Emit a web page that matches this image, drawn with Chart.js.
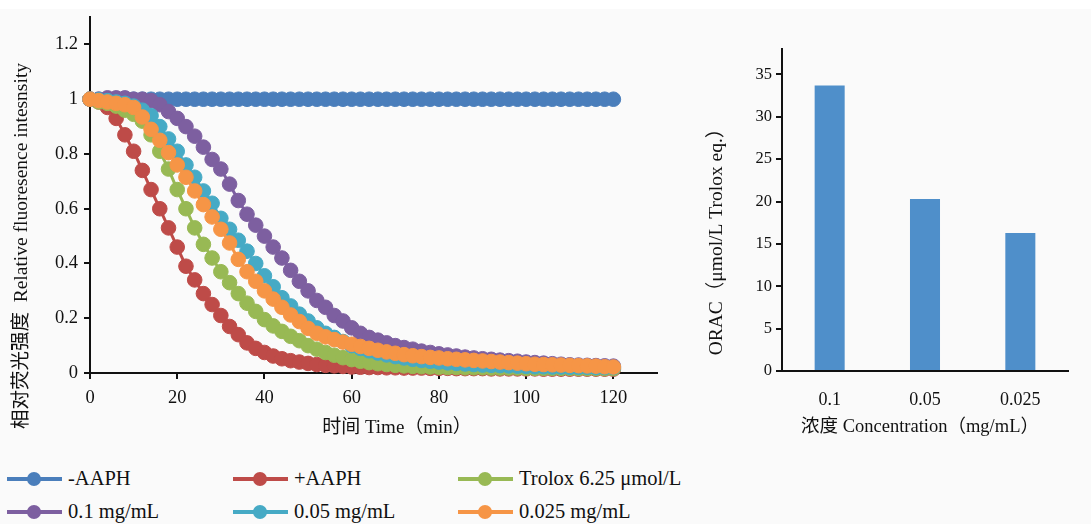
<!DOCTYPE html>
<html>
<head>
<meta charset="utf-8">
<script src="https://cdn.jsdelivr.net/npm/chart.js@4.4.0/dist/chart.umd.min.js"></script>
<style>
    body { margin: 0; background: #fafafa; width: 1091px; height: 524px; overflow: hidden; position: relative; font-family: "Liberation Serif", "Noto Sans CJK SC", serif; }
    #topStrip { position: absolute; left: 0; top: 0; width: 1091px; height: 9px; background: #fff; }
    #lineBox { position: absolute; left: 0; top: 0; width: 670px; height: 450px; }
    #barBox { position: absolute; left: 690px; top: 0; width: 401px; height: 450px; }
    .legend-item { position: absolute; height: 20px; font-size: 20.5px; color: #111; white-space: nowrap; }
    .legend-line { position: absolute; left: 0; top: 8px; width: 55px; height: 4px; }
    .legend-dot { position: absolute; left: 20px; top: 3px; width: 14px; height: 14px; border-radius: 50%; }
    .legend-text { position: absolute; left: 61px; top: -3px; line-height: 24px; }
</style>
</head>
<body>
<div id="topStrip"></div>
<div id="lineBox"><canvas id="lineChart"></canvas></div>
<div id="barBox"><canvas id="barChart"></canvas></div>
<div id="legend"></div>

<script>
// Time points (min)
const times = [0, 2, 4, 6, 8, 10, 12, 14, 16, 18, 20, 22, 24, 26, 28, 30, 32, 34, 36, 38, 40, 42, 44, 46, 48, 50, 52, 54, 56, 58, 60,
    62, 64, 66, 68, 70, 72, 74, 76, 78, 80, 82, 84, 86, 88, 90, 92, 94, 96, 98, 100,
    102, 104, 106, 108, 110, 112, 114, 116, 118, 120];

// Relative fluorescence intensity, one array per sample
const minusAAPH = [1, 1, 1, 1, 1, 1, 1, 1, 1, 1, 1, 1, 1, 1, 1, 1, 1, 1, 1, 1, 1, 1, 1, 1, 1, 1, 1, 1, 1, 1, 1,
    1, 1, 1, 1, 1, 1, 1, 1, 1, 1, 1, 1, 1, 1, 1, 1, 1, 1, 1, 1,
    1, 1, 1, 1, 1, 1, 1, 1, 1, 1];
const plusAAPH = [1, 0.99, 0.97, 0.93, 0.87, 0.81, 0.74, 0.67, 0.60, 0.53, 0.46, 0.39, 0.34, 0.29, 0.25, 0.21, 0.17, 0.14, 0.11, 0.09, 0.075, 0.062, 0.052, 0.045, 0.04, 0.035, 0.031, 0.028, 0.026, 0.024, 0.022,
    0.021, 0.02, 0.02, 0.019, 0.019, 0.018, 0.018, 0.018, 0.017, 0.017, 0.017, 0.016, 0.016, 0.016, 0.016, 0.015, 0.015, 0.015, 0.015, 0.015,
    0.015, 0.014, 0.014, 0.014, 0.014, 0.014, 0.014, 0.014, 0.014, 0.014];
const trolox = [1, 0.99, 0.985, 0.975, 0.96, 0.945, 0.92, 0.87, 0.81, 0.745, 0.67, 0.60, 0.53, 0.47, 0.42, 0.37, 0.33, 0.29, 0.255, 0.225, 0.195, 0.172, 0.152, 0.134, 0.118, 0.10, 0.087, 0.075, 0.065, 0.056, 0.049,
    0.043, 0.038, 0.034, 0.031, 0.028, 0.026, 0.024, 0.023, 0.022, 0.021, 0.02, 0.02, 0.019, 0.019, 0.019, 0.018, 0.018, 0.018, 0.018, 0.017,
    0.017, 0.017, 0.017, 0.017, 0.017, 0.016, 0.016, 0.016, 0.016, 0.016];
const sample01 = [1, 1, 1.005, 1.005, 1.005, 1, 1, 0.995, 0.98, 0.955, 0.93, 0.90, 0.865, 0.825, 0.78, 0.745, 0.69, 0.63, 0.58, 0.54, 0.50, 0.46, 0.42, 0.375, 0.335, 0.30, 0.265, 0.24, 0.21, 0.19, 0.165,
    0.145, 0.13, 0.12, 0.11, 0.10, 0.093, 0.087, 0.08, 0.075, 0.07, 0.066, 0.062, 0.058, 0.055, 0.052, 0.05, 0.047, 0.045, 0.043, 0.04,
    0.038, 0.036, 0.034, 0.032, 0.03, 0.029, 0.028, 0.027, 0.026, 0.025];
const sample005 = [1, 0.998, 0.995, 0.99, 0.985, 0.975, 0.96, 0.94, 0.90, 0.855, 0.81, 0.76, 0.715, 0.665, 0.62, 0.565, 0.525, 0.485, 0.445, 0.40, 0.355, 0.315, 0.275, 0.245, 0.215, 0.19, 0.165, 0.145, 0.13, 0.115, 0.10,
    0.09, 0.081, 0.073, 0.066, 0.06, 0.055, 0.05, 0.046, 0.043, 0.04, 0.037, 0.035, 0.033, 0.031, 0.029, 0.028, 0.027, 0.026, 0.025, 0.024,
    0.023, 0.023, 0.022, 0.022, 0.021, 0.021, 0.021, 0.02, 0.02, 0.02];
const sample0025 = [1, 0.995, 0.99, 0.985, 0.98, 0.97, 0.935, 0.89, 0.85, 0.805, 0.76, 0.715, 0.665, 0.615, 0.57, 0.525, 0.475, 0.415, 0.37, 0.335, 0.30, 0.27, 0.24, 0.212, 0.188, 0.163, 0.145, 0.132, 0.122, 0.113, 0.105,
    0.097, 0.09, 0.083, 0.077, 0.072, 0.067, 0.063, 0.06, 0.057, 0.055, 0.052, 0.05, 0.048, 0.046, 0.044, 0.042, 0.04, 0.038, 0.036, 0.034,
    0.032, 0.031, 0.03, 0.029, 0.028, 0.027, 0.026, 0.025, 0.023, 0.022];

const seriesNames = ["-AAPH", "+AAPH", "Trolox 6.25 μmol/L", "0.1 mg/mL", "0.05 mg/mL", "0.025 mg/mL"];
const seriesValues = [minusAAPH, plusAAPH, trolox, sample01, sample005, sample0025];
const seriesColors = ["#4a7ebb", "#be4b48", "#98b954", "#7d5fa0", "#46aac5", "#f69546"];

// Tick values shown on the line chart axes
const timeTicks = [0, 20, 40, 60, 80, 100, 120];
const intensityTicks = [0, 0.2, 0.4, 0.6, 0.8, 1, 1.2];

// ORAC bar chart
const concentrations = ["0.1", "0.05", "0.025"];
const oracValues = [33.7, 20.3, 16.3];
const oracTicks = [0, 5, 10, 15, 20, 25, 30, 35];
const barColor = "#4f8fca";

const serif = "'Liberation Serif', 'Noto Sans CJK SC', serif";
const ink = "#111";

// Draw axis titles at fixed spots (they sit off-centre in the original)
const axisTitlePlugin = {
    id: "axisTitles",
    afterDraw(chart, args, opts) {
        const ctx = chart.ctx;
        opts.items.forEach((item) => {
            ctx.save();
            ctx.font = `${item.size}px ${serif}`;
            ctx.fillStyle = ink;
            ctx.textAlign = "center";
            ctx.textBaseline = "middle";
            ctx.translate(item.x, item.y);
            if (item.rotate) ctx.rotate(-Math.PI / 2);
            ctx.fillText(item.text, 0, 0);
            ctx.restore();
        });
    },
};

function axisStyle(extra) {
    return Object.assign({
        grid: { drawOnChartArea: false, drawTicks: true, tickLength: 6, color: ink, lineWidth: 2 },
        border: { color: ink, width: 2 },
    }, extra);
}

function initLineChart() {
    const datasets = seriesValues.map((values, i) => ({
        label: seriesNames[i],
        data: times.map((t, j) => ({ x: t, y: values[j] })),
        borderColor: seriesColors[i],
        backgroundColor: seriesColors[i],
        pointBackgroundColor: seriesColors[i],
        pointBorderColor: seriesColors[i],
        borderWidth: 3,
        pointRadius: 7.3,
        pointBorderWidth: 1,
        order: seriesValues.length - i, // later samples on top
        clip: false,
    }));

    new Chart(document.getElementById("lineChart"), {
        type: "line",
        data: { datasets: datasets },
        plugins: [axisTitlePlugin],
        options: {
            responsive: false,
            animation: false,
            layout: { padding: { top: 13, right: 13, left: 0, bottom: 0 } },
            plugins: {
                legend: { display: false },
                tooltip: { enabled: false },
                axisTitles: {
                    items: [
                        { text: "相对荧光强度  Relative fluoresence intesnsity", x: 22, y: 246, rotate: true, size: 19.5 },
                        { text: "时间 Time（min）", x: 397, y: 428, size: 19 },
                    ],
                },
            },
            scales: {
                x: axisStyle({
                    type: "linear",
                    min: 0,
                    max: 130,
                    ticks: { color: ink, font: { family: serif, size: 18.5 }, padding: 8, maxRotation: 0 },
                    afterBuildTicks: (s) => { s.ticks = timeTicks.map((v) => ({ value: v })); },
                    afterFit: (s) => { s.height = 77; },
                }),
                y: axisStyle({
                    min: 0,
                    max: 1.3,
                    ticks: { color: ink, font: { family: serif, size: 18.5 }, padding: 6, callback: (v) => String(v) },
                    afterBuildTicks: (s) => { s.ticks = intensityTicks.map((v) => ({ value: v })); },
                    afterFit: (s) => { s.width = 90; },
                }),
            },
        },
    });
}

function initBarChart() {
    new Chart(document.getElementById("barChart"), {
        type: "bar",
        data: {
            labels: concentrations,
            datasets: [{
                label: "ORAC",
                data: oracValues,
                backgroundColor: barColor,
                barPercentage: 0.315,
                categoryPercentage: 1,
            }],
        },
        plugins: [axisTitlePlugin],
        options: {
            responsive: false,
            animation: false,
            layout: { padding: { top: 49, right: 23, left: 0, bottom: 0 } },
            plugins: {
                legend: { display: false },
                tooltip: { enabled: false },
                axisTitles: {
                    items: [
                        { text: "ORAC（μmol/L Trolox eq.）", x: 27, y: 237, rotate: true, size: 19.5 },
                        { text: "浓度 Concentration（mg/mL）", x: 230, y: 427, size: 18.5 },
                    ],
                },
            },
            scales: {
                x: {
                    grid: { display: false },
                    border: { color: ink, width: 2 },
                    ticks: { color: ink, font: { family: serif, size: 18 }, padding: 10 },
                    afterFit: (s) => { s.height = 79; },
                },
                y: axisStyle({
                    min: 0,
                    max: 38,
                    ticks: { color: ink, font: { family: serif, size: 16.5 }, padding: 4 },
                    afterBuildTicks: (s) => { s.ticks = oracTicks.map((v) => ({ value: v })); },
                    afterFit: (s) => { s.width = 92; },
                }),
            },
        },
    });
}

// Legend below the line chart, 3 columns x 2 rows
function buildLegend() {
    const legend = document.getElementById("legend");
    const colX = [7, 233, 458];
    const rowY = [469, 502];
    seriesNames.forEach((name, i) => {
        const item = document.createElement("div");
        item.className = "legend-item";
        item.style.left = colX[i % 3] + "px";
        item.style.top = rowY[Math.floor(i / 3)] + "px";
        item.innerHTML = `
            <div class="legend-line" style="background:${seriesColors[i]}"></div>
            <div class="legend-dot" style="background:${seriesColors[i]}"></div>
            <span class="legend-text">${name}</span>
        `;
        legend.appendChild(item);
    });
}

document.getElementById("lineChart").width = 670;
document.getElementById("lineChart").height = 450;
document.getElementById("barChart").width = 401;
document.getElementById("barChart").height = 450;

initLineChart();
initBarChart();
buildLegend();
</script>
</body>
</html>
